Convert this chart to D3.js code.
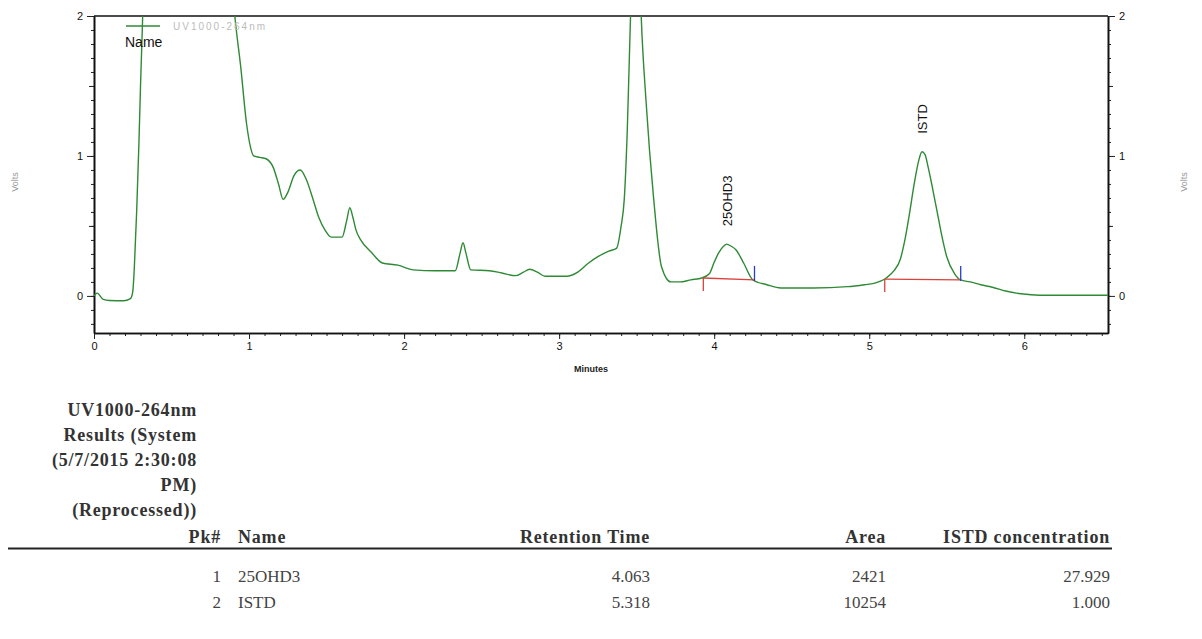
<!DOCTYPE html>
<html lang="en">
    <head>
        <meta charset="utf-8">
        <style>
            body { margin: 0; background: #fff; }
            .trace { fill: none; stroke: #2f8a35; stroke-width: 1.4px; }
            .axis path { stroke: #111; stroke-width: 1.4px; }
            .axis line { stroke: #222; }
            .axis text { font-family: "Liberation Sans", Arial, sans-serif; font-size: 11px; fill: #111; }
            .hdr { font-family: "Liberation Serif", "Times New Roman", serif; font-size: 18px; font-weight: bold; fill: #333; letter-spacing: 0.8px; }
            .cell { font-family: "Liberation Serif", "Times New Roman", serif; font-size: 17px; fill: #444; }
        </style>
        <script src="https://d3js.org/d3.v7.min.js"></script>
        <title>Chromatogram</title>
    </head>
    <body>
        <div id="chart"></div>
        <script>
            // trace (minutes, volts); values above 2 are off-scale and clipped
            var times = [0.00, 0.02, 0.06, 0.10, 0.19, 0.235, 0.25, 0.26, 0.275, 0.29, 0.30, 0.31, 0.32,
                0.90, 0.91, 0.946, 0.984, 1.01, 1.03, 1.07, 1.11, 1.155, 1.19, 1.22, 1.25, 1.29, 1.33, 1.37,
                1.41, 1.45, 1.49, 1.53, 1.60, 1.63, 1.65, 1.67, 1.69, 1.72, 1.79, 1.86, 1.96, 2.06, 2.20,
                2.33, 2.36, 2.38, 2.40, 2.43, 2.55, 2.63, 2.72, 2.77, 2.81, 2.86, 2.91, 3.05, 3.12, 3.19,
                3.25, 3.32, 3.37, 3.40, 3.42, 3.44, 3.46, 3.47, 3.52, 3.53, 3.56, 3.61, 3.66, 3.72, 3.78,
                3.85, 3.92, 3.97, 4.00, 4.03, 4.06, 4.08, 4.11, 4.14, 4.19, 4.25, 4.34, 4.43, 4.64, 4.86,
                4.97, 5.03, 5.11, 5.16, 5.20, 5.23, 5.26, 5.29, 5.32, 5.34, 5.36, 5.38, 5.41, 5.44, 5.47,
                5.50, 5.55, 5.59, 5.65, 5.72, 5.80, 5.88, 5.98, 6.10, 6.30, 6.54];
            var volts = [0.00, 0.02, -0.025, -0.033, -0.035, -0.02, 0.03, 0.20, 0.60, 1.10, 1.50, 1.85, 2.15,
                2.10, 1.98, 1.64, 1.23, 1.06, 1.00, 0.99, 0.98, 0.92, 0.80, 0.69, 0.74, 0.86, 0.90, 0.83,
                0.70, 0.56, 0.47, 0.42, 0.42, 0.54, 0.63, 0.56, 0.47, 0.40, 0.31, 0.235, 0.22, 0.186, 0.18,
                0.18, 0.30, 0.38, 0.30, 0.186, 0.18, 0.164, 0.145, 0.17, 0.19, 0.17, 0.14, 0.14, 0.17, 0.235,
                0.28, 0.32, 0.34, 0.50, 0.69, 1.20, 1.98, 2.30, 2.30, 1.98, 1.40, 0.69, 0.21, 0.10, 0.10,
                0.115, 0.128, 0.16, 0.24, 0.31, 0.355, 0.37, 0.355, 0.33, 0.235, 0.114, 0.08, 0.057, 0.057, 0.066,
                0.08, 0.09, 0.128, 0.18, 0.26, 0.40, 0.59, 0.80, 0.97, 1.03, 1.01, 0.92, 0.76, 0.59, 0.42,
                0.28, 0.16, 0.114, 0.10, 0.08, 0.06, 0.035, 0.015, 0.005, 0.005, 0.005];

            // integrated peaks
            var peakNames = ["25OHD3", "ISTD"];
            var peakApex = [4.08, 5.34];
            var peakApexV = [0.37, 1.03];
            var baseStart = [3.93, 5.10];
            var baseEnd = [4.26, 5.59];
            var baseStartV = [0.128, 0.12];
            var baseEndV = [0.114, 0.114];

            var xTicks = [0, 1, 2, 3, 4, 5, 6];
            var yTicks = [0, 1, 2];

            // results table
            var headerLines = ["UV1000-264nm", "Results (System", "(5/7/2015 2:30:08", "PM)", "(Reprocessed))"];
            var colNames = ["Pk#", "Name", "Retention Time", "Area", "ISTD concentration"];
            var pkNums = ["1", "2"];
            var pkNames = ["25OHD3", "ISTD"];
            var retTimes = ["4.063", "5.318"];
            var areas = ["2421", "10254"];
            var istdConc = ["27.929", "1.000"];

            var W = 1202, H = 639;
            var plotLeft = 94, plotRight = 1108, plotTop = 16, plotBottom = 333;

            var svg = d3.select("#chart")
                .append("svg")
                    .attr("width", W)
                    .attr("height", H);

            var x = d3.scaleLinear()
                .domain([0, 6.54])
                .range([plotLeft, plotRight]);

            var y = d3.scaleLinear()
                .domain([-0.265, 2])
                .range([plotBottom, plotTop]);

            // minor ticks first, then major ones
            var minorY = d3.range(-2, 21).map(function(d) { return d / 10; });
            var halfY = [0.5, 1.5];
            var minorX = d3.range(1, 66).map(function(d) { return d / 10; });

            function yAxes(axisFn, xpos) {
                svg.append("g").attr("class", "axis")
                    .attr("transform", "translate(" + xpos + ",0)")
                    .call(axisFn(y).tickValues(minorY).tickSize(3).tickSizeOuter(0).tickFormat(""));
                svg.append("g").attr("class", "axis")
                    .attr("transform", "translate(" + xpos + ",0)")
                    .call(axisFn(y).tickValues(halfY).tickSize(5).tickSizeOuter(0).tickFormat(""));
                svg.append("g").attr("class", "axis")
                    .attr("transform", "translate(" + xpos + ",0)")
                    .call(axisFn(y).tickValues(yTicks).tickSize(7).tickSizeOuter(0).tickPadding(4).tickFormat(d3.format("d")));
            }
            yAxes(d3.axisLeft, plotLeft);
            yAxes(d3.axisRight, plotRight);

            svg.append("g").attr("class", "axis")
                .attr("transform", "translate(0," + plotBottom + ")")
                .call(d3.axisBottom(x).tickValues(minorX).tickSize(3).tickSizeOuter(0).tickFormat(""));
            svg.append("g").attr("class", "axis")
                .attr("transform", "translate(0," + plotBottom + ")")
                .call(d3.axisBottom(x).tickValues(xTicks).tickSize(6).tickSizeOuter(0).tickPadding(3).tickFormat(d3.format("d")));

            // top border
            svg.append("line")
                .attr("x1", plotLeft).attr("x2", plotRight)
                .attr("y1", plotTop).attr("y2", plotTop)
                .attr("stroke", "#111").attr("stroke-width", 1.4);

            // trace, clipped to the plot
            svg.append("clipPath").attr("id", "plotclip")
                .append("rect")
                    .attr("x", plotLeft).attr("y", plotTop)
                    .attr("width", plotRight - plotLeft).attr("height", plotBottom - plotTop);

            var pts = times.map(function(t, i) { return [t, volts[i]]; });
            var valueline = d3.line()
                .curve(d3.curveMonotoneX)
                .x(function(d) { return x(d[0]); })
                .y(function(d) { return y(d[1]); });

            svg.append("path")
                .datum(pts)
                .attr("class", "trace")
                .attr("clip-path", "url(#plotclip)")
                .attr("d", valueline);

            // baselines with start (red) and end (blue) markers
            peakNames.forEach(function(name, i) {
                svg.append("line")
                    .attr("x1", x(baseStart[i])).attr("y1", y(baseStartV[i]))
                    .attr("x2", x(baseEnd[i])).attr("y2", y(baseEndV[i]))
                    .attr("stroke", "#d9433b").attr("stroke-width", 1.3);
                svg.append("line")
                    .attr("x1", x(baseStart[i])).attr("y1", y(baseStartV[i]))
                    .attr("x2", x(baseStart[i])).attr("y2", y(baseStartV[i]) + 13)
                    .attr("stroke", "#d9433b").attr("stroke-width", 1.3);
                svg.append("line")
                    .attr("x1", x(baseEnd[i])).attr("y1", y(baseEndV[i]) + 1)
                    .attr("x2", x(baseEnd[i])).attr("y2", y(baseEndV[i]) - 14)
                    .attr("stroke", "#2a3cc4").attr("stroke-width", 1.3);

                svg.append("text")
                    .attr("transform", "translate(" + (x(peakApex[i]) + 5) + "," + (y(peakApexV[i]) - 18) + ") rotate(-90)")
                    .attr("font-family", "Liberation Sans, Arial, sans-serif")
                    .attr("font-size", 13)
                    .attr("fill", "#111")
                    .text(name);
            });

            // legend
            svg.append("line")
                .attr("x1", 126).attr("x2", 160)
                .attr("y1", 26).attr("y2", 26)
                .attr("stroke", "#2f8a35").attr("stroke-width", 1.3);
            svg.append("text")
                .attr("x", 173).attr("y", 30)
                .attr("font-family", "Liberation Sans, Arial, sans-serif")
                .attr("font-size", 10)
                .attr("letter-spacing", 2)
                .attr("fill", "#bcbcbc")
                .text("UV1000-264nm");
            svg.append("text")
                .attr("x", 125).attr("y", 47)
                .attr("font-family", "Liberation Sans, Arial, sans-serif")
                .attr("font-size", 14)
                .attr("fill", "#111")
                .text("Name");

            // axis titles
            [18, 1187].forEach(function(xp) {
                svg.append("text")
                    .attr("transform", "translate(" + xp + ",182) rotate(-90)")
                    .attr("text-anchor", "middle")
                    .attr("font-family", "Liberation Sans, Arial, sans-serif")
                    .attr("font-size", 9)
                    .attr("fill", "#999")
                    .text("Volts");
            });
            svg.append("text")
                .attr("x", (plotLeft + plotRight) / 2 - 10).attr("y", 372)
                .attr("text-anchor", "middle")
                .attr("font-family", "Liberation Sans, Arial, sans-serif")
                .attr("font-size", 9)
                .attr("font-weight", "bold")
                .attr("fill", "#222")
                .text("Minutes");

            // table
            svg.selectAll(".hline")
                .data(headerLines)
                .enter()
                    .append("text")
                    .attr("class", "hdr")
                    .attr("x", 197)
                    .attr("y", function(d, i) { return 416 + i * 25; })
                    .attr("text-anchor", "end")
                    .text(function(d) { return d; });

            var colX = [221, 238, 650, 886, 1110];
            var colAnchor = ["end", "start", "end", "end", "end"];

            svg.selectAll(".colhead")
                .data(colNames)
                .enter()
                    .append("text")
                    .attr("class", "hdr")
                    .attr("x", function(d, i) { return colX[i]; })
                    .attr("y", 543)
                    .attr("text-anchor", function(d, i) { return colAnchor[i]; })
                    .text(function(d) { return d; });

            svg.append("line")
                .attr("x1", 8).attr("x2", 1112)
                .attr("y1", 548.5).attr("y2", 548.5)
                .attr("stroke", "#222").attr("stroke-width", 2);

            var cols = [pkNums, pkNames, retTimes, areas, istdConc];
            pkNums.forEach(function(p, r) {
                cols.forEach(function(col, c) {
                    svg.append("text")
                        .attr("class", "cell")
                        .attr("x", colX[c])
                        .attr("y", 582 + r * 26)
                        .attr("text-anchor", colAnchor[c])
                        .text(col[r]);
                });
            });
        </script>
    </body>
</html>
